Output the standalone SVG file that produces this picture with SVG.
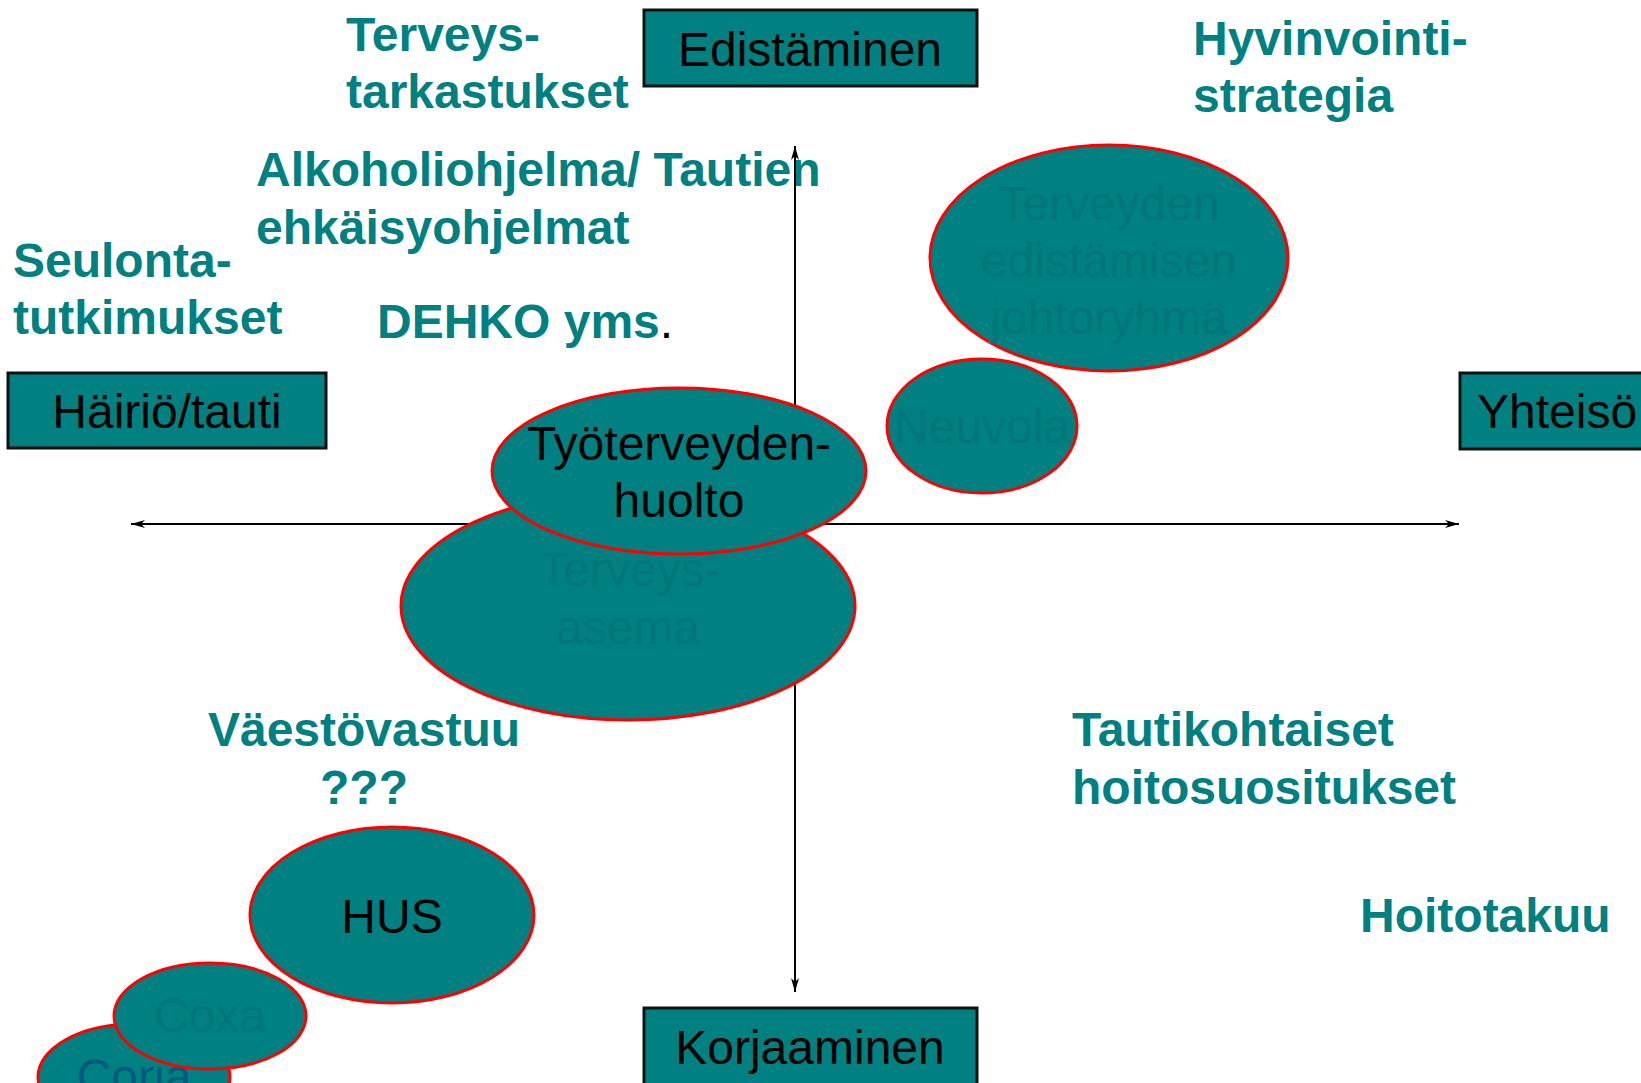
<svg xmlns="http://www.w3.org/2000/svg" width="1641" height="1083" viewBox="0 0 1641 1083">
<style>
.box{fill:#008080;stroke:#111;stroke-width:3}
.ell{fill:#008080;stroke:#ff0000;stroke-width:3}
.lbl{font-family:"Liberation Sans",Arial,sans-serif;font-size:48px;fill:#000}
.hid{font-family:"Liberation Sans",Arial,sans-serif;font-size:48px;fill:#00767b}
.bt{font-family:"Liberation Sans",Arial,sans-serif;font-size:48px;font-weight:bold;fill:#008080}
.ax{stroke:#000;stroke-width:2;fill:none}
</style>
<defs>
<marker id="arr" viewBox="0 0 14 8" refX="14" refY="4" markerWidth="14" markerHeight="8" markerUnits="userSpaceOnUse" orient="auto-start-reverse">
<path d="M0,0 L14,4 L0,8 L4,4 z" fill="#000"/>
</marker>
</defs>
<rect width="1641" height="1083" fill="#fff"/>
<g id="texts">
<text class="bt" x="346" y="51">Terveys-</text>
<text class="bt" x="346" y="108">tarkastukset</text>
<text class="bt" x="256" y="186">Alkoholiohjelma/ Tautien</text>
<text class="bt" x="256" y="244">ehkäisyohjelmat</text>
<text class="bt" x="13" y="277">Seulonta-</text>
<text class="bt" x="13" y="334">tutkimukset</text>
<text class="bt" x="377" y="338">DEHKO yms<tspan style="font-weight:normal;fill:#000">.</tspan></text>
<text class="bt" x="1193" y="55">Hyvinvointi-</text>
<text class="bt" x="1193" y="112">strategia</text>
<text class="bt" x="364" y="746" text-anchor="middle">Väestövastuu</text>
<text class="bt" x="364" y="804" text-anchor="middle">???</text>
<text class="bt" x="1072" y="746">Tautikohtaiset</text>
<text class="bt" x="1072" y="804">hoitosuositukset</text>
<text class="bt" x="1360" y="932">Hoitotakuu</text>
</g>
<g id="connectors">
<line class="ax" x1="131" y1="524" x2="1459" y2="524" marker-start="url(#arr)" marker-end="url(#arr)"/>
<line class="ax" x1="795" y1="146" x2="795" y2="992" marker-start="url(#arr)" marker-end="url(#arr)"/>
</g>
<g id="edistaminen">
<rect class="box" x="644" y="10" width="333" height="76"/>
<text class="lbl" x="810" y="66" text-anchor="middle">Edistäminen</text>
</g>
<g id="hairio">
<rect class="box" x="8" y="373" width="318" height="75"/>
<text class="lbl" x="167" y="428" text-anchor="middle">Häiriö/tauti</text>
</g>
<g id="yhteiso">
<rect class="box" x="1460" y="373" width="200" height="76"/>
<text class="lbl" x="1477" y="428">Yhteisö</text>
</g>
<g id="korjaaminen">
<rect class="box" x="644" y="1008" width="333" height="100"/>
<text class="lbl" x="810" y="1064" text-anchor="middle">Korjaaminen</text>
</g>
<g id="johtoryhma">
<ellipse class="ell" cx="1109" cy="258" rx="179" ry="113"/>
<text class="hid" x="1109" y="220" text-anchor="middle">Terveyden</text>
<text class="hid" x="1109" y="277" text-anchor="middle">edistämisen</text>
<text class="hid" x="1109" y="334" text-anchor="middle">johtoryhmä</text>
</g>
<g id="neuvola">
<ellipse class="ell" cx="982" cy="426" rx="95" ry="67"/>
<text class="hid" x="982" y="443" text-anchor="middle">Neuvola</text>
</g>
<g id="terveysasema">
<ellipse class="ell" cx="628" cy="606" rx="227" ry="114"/>
<text class="hid" x="630" y="586" text-anchor="middle">Terveys-</text>
<text class="hid" x="628" y="644" text-anchor="middle">asema</text>
</g>
<g id="tyoterveys">
<ellipse class="ell" cx="679" cy="471" rx="187" ry="83"/>
<text class="lbl" x="679" y="460" text-anchor="middle">Työterveyden-</text>
<text class="lbl" x="679" y="517" text-anchor="middle">huolto</text>
</g>
<g id="hus">
<ellipse class="ell" cx="392" cy="915" rx="142" ry="88"/>
<text class="lbl" x="392" y="933" text-anchor="middle">HUS</text>
</g>
<g id="coria">
<ellipse class="ell" cx="134" cy="1077" rx="96" ry="53"/>
<text class="lbl" x="134" y="1093" text-anchor="middle" style="fill:#005a80">Coria</text>
</g>
<g id="coxa">
<ellipse class="ell" cx="210" cy="1016" rx="96" ry="53"/>
<text class="hid" x="210" y="1032" text-anchor="middle">Coxa</text>
</g>
</svg>
